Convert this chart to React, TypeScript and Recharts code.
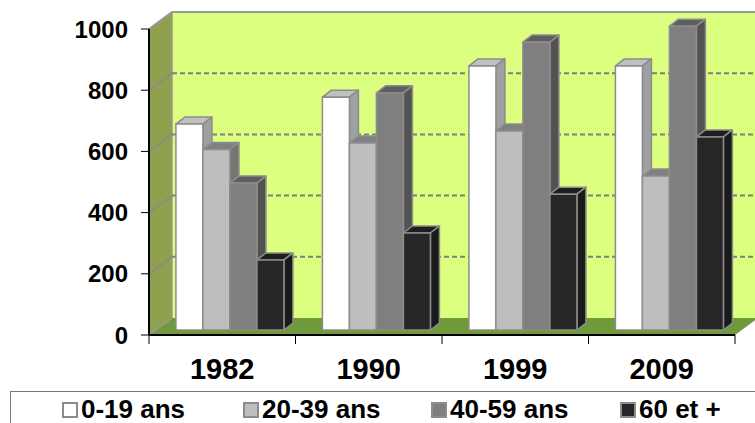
import { BarChart, Bar, XAxis, YAxis, CartesianGrid, Legend, Customized } from 'recharts'

const YEARS = ['1982', '1990', '1999', '2009']
const AGE_0_19 = [673, 761, 863, 863]
const AGE_20_39 = [590, 611, 650, 503]
const AGE_40_59 = [480, 775, 941, 993]
const AGE_60_PLUS = [229, 317, 444, 631]
const Y_TICKS = [0, 200, 400, 600, 800, 1000]

const rows = YEARS.map((year, i) => ({
  year,
  a: AGE_0_19[i],
  b: AGE_20_39[i],
  c: AGE_40_59[i],
  d: AGE_60_PLUS[i],
}))

const FONT = '"Liberation Sans", Arial, sans-serif'

// plot box and 3D depth of the walls
const LEFT = 149
const RIGHT = 735
const TOP = 29
const BOTTOM = 335
const DX = 23
const DY = -17
const EDGE = '#8c8c8c'

const SHADES: Record<string, { top: string; side: string }> = {
  '#ffffff': { top: '#c0c0c0', side: '#a0a0a0' },
  '#bebebe': { top: '#808080', side: '#767676' },
  '#7f7f7f': { top: '#5e5e5e', side: '#525252' },
  '#262626': { top: '#1e1e1e', side: '#1a1a1a' },
}

const LEGEND_LEFT = [51, 232, 420, 609]

function Box3D(props: any) {
  const { x, y, width, height, fill } = props
  // bars stand slightly inside the floor
  const fx = x + 7
  const fy = y - 5
  const dx = 9
  const dy = -7
  const tone = SHADES[fill]
  const common = { stroke: EDGE, strokeWidth: 1.5, strokeLinejoin: 'round' as const }
  return (
    <g>
      <polygon
        points={`${fx},${fy} ${fx + width},${fy} ${fx + width + dx},${fy + dy} ${fx + dx},${fy + dy}`}
        fill={tone.top}
        {...common}
      />
      <polygon
        points={`${fx + width},${fy} ${fx + width + dx},${fy + dy} ${fx + width + dx},${fy + height + dy} ${fx + width},${fy + height}`}
        fill={tone.side}
        {...common}
      />
      <rect x={fx} y={fy} width={width} height={height} fill={fill} {...common} />
    </g>
  )
}

function Walls() {
  return (
    <g>
      <rect x={LEFT + DX} y={TOP + DY} width={RIGHT - LEFT + DX} height={BOTTOM - TOP} fill="#ddff7f" />
      <polygon
        points={`${LEFT},${TOP} ${LEFT + DX},${TOP + DY} ${LEFT + DX},${BOTTOM + DY} ${LEFT},${BOTTOM}`}
        fill="#8fa04f"
      />
      <polygon
        points={`${LEFT},${BOTTOM} ${RIGHT},${BOTTOM} ${RIGHT + DX},${BOTTOM + DY} ${LEFT + DX},${BOTTOM + DY}`}
        fill="#6f9a3c"
      />
      <polyline
        points={`${LEFT},${TOP} ${LEFT + DX},${TOP + DY} ${RIGHT + DX},${TOP + DY}`}
        fill="none"
        stroke="#999999"
        strokeWidth={2}
      />
      <line x1={LEFT + DX} y1={TOP + DY} x2={LEFT + DX} y2={BOTTOM + DY} stroke="#999999" strokeWidth={1.5} />
      <line x1={LEFT} y1={BOTTOM} x2={LEFT + DX} y2={BOTTOM + DY} stroke="#999999" strokeWidth={1.5} />
    </g>
  )
}

function WallGridLine(props: any) {
  const y = props.y1
  if (Math.abs(y - TOP) < 1 || Math.abs(y - BOTTOM) < 1) return <g key={props.key} />
  return (
    <g key={props.key}>
      <line x1={LEFT} y1={y} x2={LEFT + DX} y2={y + DY} stroke="#8a8a8a" strokeWidth={1.5} />
      <line
        x1={LEFT + DX}
        y1={y + DY}
        x2={RIGHT + DX}
        y2={y + DY}
        stroke="#7f7f7f"
        strokeWidth={2}
        strokeDasharray="5 3"
      />
    </g>
  )
}

// tick marks sit on the category boundaries, the label in the middle
function YearTick(props: any) {
  const { x, payload, index } = props
  const half = (RIGHT - LEFT) / YEARS.length / 2
  return (
    <g>
      <line x1={x - half} y1={BOTTOM} x2={x - half} y2={BOTTOM + 9} stroke="#000" strokeWidth={1} />
      {index === YEARS.length - 1 && (
        <line x1={x + half} y1={BOTTOM} x2={x + half} y2={BOTTOM + 9} stroke="#000" strokeWidth={1} />
      )}
      <text x={x} y={BOTTOM + 44} textAnchor="middle" fill="#000" fontFamily={FONT} fontWeight={700} fontSize={29}>
        {payload.value}
      </text>
    </g>
  )
}

function AgeLegend({ payload }: any) {
  return (
    <div
      style={{
        position: 'relative',
        height: 32,
        borderTop: '1.5px solid #777',
        borderLeft: '1.5px solid #777',
        fontFamily: FONT,
        fontWeight: 700,
        fontSize: 26,
        color: '#000',
        boxSizing: 'border-box',
      }}
    >
      {(payload ?? []).map((item: any, i: number) => (
        <div key={item.value} style={{ position: 'absolute', left: LEGEND_LEFT[i], top: 1, lineHeight: '32px', whiteSpace: 'nowrap' }}>
          <span
            style={{
              display: 'inline-block',
              width: 12,
              height: 12,
              marginRight: 3,
              background: item.color,
              border: `2px solid ${EDGE}`,
            }}
          />
          {item.value}
        </div>
      ))}
    </div>
  )
}

export default function App() {
  return (
    <div style={{ width: 755, height: 423, overflow: 'hidden', background: '#fff' }}>
      <style>{'body { margin: 0; }'}</style>
      <BarChart
        width={755}
        height={423}
        data={rows}
        margin={{ top: TOP, right: 755 - RIGHT, bottom: 0, left: 0 }}
        barCategoryGap="13.6%"
        barGap={0}
      >
        <Customized component={Walls} />
        <CartesianGrid vertical={false} horizontal={WallGridLine} zIndex={1} />
        <XAxis
          dataKey="year"
          height={56}
          tickLine={false}
          interval={0}
          axisLine={{ stroke: '#000', strokeWidth: 2 }}
          tick={YearTick}
        />
        <YAxis
          width={LEFT}
          domain={[0, 1000]}
          ticks={Y_TICKS}
          interval={0}
          tickSize={8}
          tickMargin={13}
          axisLine={{ stroke: '#000', strokeWidth: 2 }}
          tickLine={{ stroke: '#000', strokeWidth: 1 }}
          tick={{ fill: '#000', fontFamily: FONT, fontWeight: 700, fontSize: 24 }}
        />
        <Bar dataKey="a" name="0-19 ans" fill="#ffffff" shape={Box3D} isAnimationActive={false} />
        <Bar dataKey="b" name="20-39 ans" fill="#bebebe" shape={Box3D} isAnimationActive={false} />
        <Bar dataKey="c" name="40-59 ans" fill="#7f7f7f" shape={Box3D} isAnimationActive={false} />
        <Bar dataKey="d" name="60 et +" fill="#262626" shape={Box3D} isAnimationActive={false} />
        <Legend
          content={AgeLegend}
          verticalAlign="bottom"
          wrapperStyle={{ left: 10, bottom: 0, width: 745, height: 32 }}
        />
      </BarChart>
    </div>
  )
}
